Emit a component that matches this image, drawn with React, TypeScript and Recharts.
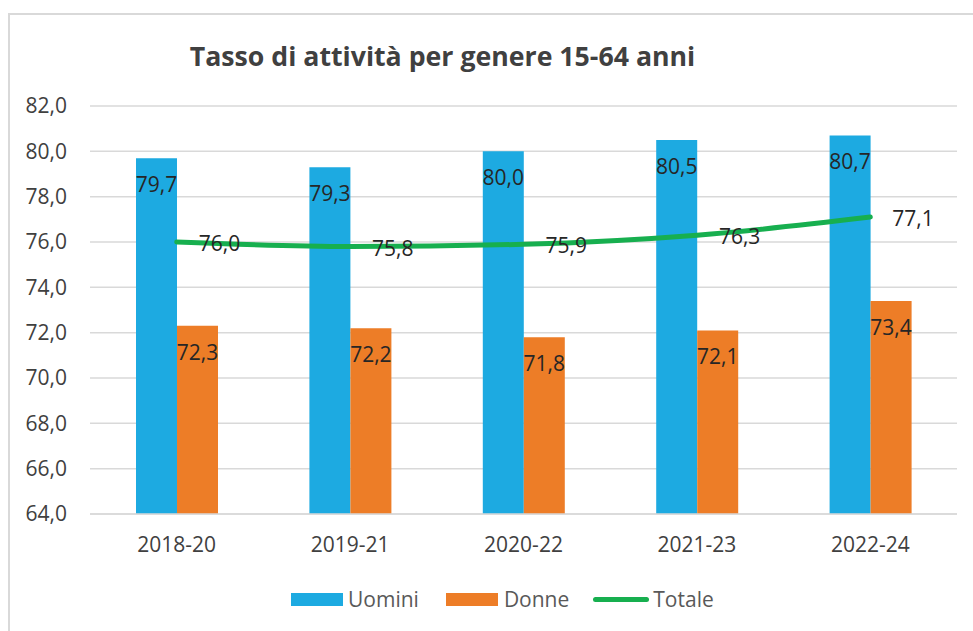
import { ComposedChart, Bar, Line, XAxis, YAxis, CartesianGrid, LabelList, Legend } from 'recharts';

const periodi = ['2018-20', '2019-21', '2020-22', '2021-23', '2022-24'];
const uomini = [79.7, 79.3, 80.0, 80.5, 80.7];
const donne = [72.3, 72.2, 71.8, 72.1, 73.4];
const totale = [76.0, 75.8, 75.9, 76.3, 77.1];
const yTicks = [64, 66, 68, 70, 72, 74, 76, 78, 80, 82];

const data = periodi.map((p, i) => ({ periodo: p, Uomini: uomini[i], Donne: donne[i], Totale: totale[i] }));

const BLUE = '#1DAAE1';
const ORANGE = '#ED7D27';
const GREEN = '#17AF4F';
const FONT = '"Open Sans", sans-serif';

const fmt = (v: number) => v.toFixed(1).replace('.', ',');

const BarLabel = (props: any) => {
  const { x, y, width, value } = props;
  return (
    <text x={x + width / 2} y={y + 26} textAnchor="middle" dominantBaseline="central" fontSize={21} fontFamily={FONT} fill="#262626">
      {fmt(value)}
    </text>
  );
};

const LineLabel = (props: any) => {
  const { x, y, value } = props;
  return (
    <text x={x + 22} y={y + 1} textAnchor="start" dominantBaseline="central" fontSize={21} fontFamily={FONT} fill="#262626">
      {fmt(value)}
    </text>
  );
};

const LegendBox = () => (
  <div style={{ display: 'flex', alignItems: 'center', fontFamily: FONT, fontSize: 21, color: '#595959', lineHeight: '24px' }}>
    <span style={{ width: 52, height: 13, background: BLUE, marginRight: 5 }} />
    <span style={{ marginRight: 27 }}>Uomini</span>
    <span style={{ width: 52, height: 13, background: ORANGE, marginRight: 6 }} />
    <span style={{ marginRight: 24 }}>Donne</span>
    <span style={{ width: 56, height: 5, borderRadius: 3, background: GREEN, marginRight: 4 }} />
    <span>Totale</span>
  </div>
);

export default function App() {
  return (
    <div style={{ position: 'absolute', left: 0, top: 0, width: 973, height: 631, background: '#fff', overflow: 'hidden' }}>
      <div style={{ position: 'absolute', left: 8, top: 13, width: 980, height: 640, borderTop: '2px solid #d9d9d9', borderLeft: '2px solid #d9d9d9' }} />
      <div style={{ position: 'absolute', left: 0, width: 885, top: 39, textAlign: 'center', fontFamily: FONT, fontWeight: 700, fontSize: 26.7, color: '#404040', lineHeight: '34px' }}>
        Tasso di attività per genere 15-64 anni
      </div>
      <div style={{ position: 'absolute', left: 0, top: 0 }}>
        <ComposedChart width={973} height={631} data={data} margin={{ top: 106, right: 16, left: 0, bottom: 77 }} barGap={0}>
          <CartesianGrid vertical={false} stroke="#d9d9d9" strokeWidth={1.5} />
          <XAxis dataKey="periodo" height={40} tickLine={false} tickSize={0} tickMargin={23} axisLine={{ stroke: '#d9d9d9', strokeWidth: 1.5 }} tick={{ fontSize: 21, fontFamily: FONT, fill: '#404040' }} />
          <YAxis domain={[64, 82]} ticks={yTicks} width={90} axisLine={false} tickLine={false} tickSize={0} tickMargin={23} tickFormatter={fmt} tick={{ fontSize: 21, fontFamily: FONT, fill: '#404040' }} />
          <Bar dataKey="Uomini" fill={BLUE} barSize={41} isAnimationActive={false}>
            <LabelList dataKey="Uomini" content={BarLabel} />
          </Bar>
          <Bar dataKey="Donne" fill={ORANGE} barSize={41} isAnimationActive={false}>
            <LabelList dataKey="Donne" content={BarLabel} />
          </Bar>
          <Line type="monotone" dataKey="Totale" stroke={GREEN} strokeWidth={5} strokeLinecap="round" dot={false} activeDot={false} isAnimationActive={false}>
            <LabelList dataKey="Totale" content={LineLabel} />
          </Line>
          <Legend layout="horizontal" verticalAlign="middle" align="center" content={LegendBox} wrapperStyle={{ position: 'absolute', top: 587, left: 291, width: 500 }} />
        </ComposedChart>
      </div>
    </div>
  );
}
